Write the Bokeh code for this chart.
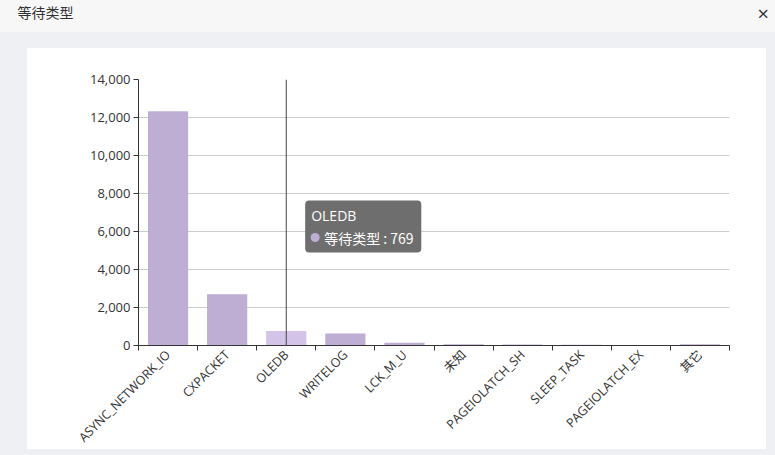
import math
from bokeh.plotting import figure
from bokeh.models import (Range1d, FixedTicker, NumeralTickFormatter, Span,
                          BoxAnnotation, Label, ColumnDataSource)
from bokeh.embed import file_html
from bokeh.resources import INLINE

# ---------------- data ----------------
title_text = "等待类型"
categories = ["ASYNC_NETWORK_IO", "CXPACKET", "OLEDB", "WRITELOG", "LCK_M_U",
              "未知", "PAGEIOLATCH_SH", "SLEEP_TASK", "PAGEIOLATCH_EX", "其它"]
wait_values = [12330, 2700, 769, 632, 145, 65, 50, 45, 10, 65]
y_ticks = [0, 2000, 4000, 6000, 8000, 10000, 12000, 14000]
series_name = "等待类型"
hover_index = 2

# ---------------- styles ----------------
FONT = "'Open Sans', 'Noto Sans CJK SC', sans-serif"
CJK = "'Noto Sans CJK SC', 'Open Sans', sans-serif"
BAR = "#bfaed4"
BAR_HI = "#d3c3e8"
GRAY_BG = "#eef0f3"
HEADER_BG = "#f7f7f8"
TXT = "#333333"

W, H = 775, 455
FL, FR, FT, FB = 138, 729, 79, 345          # plot frame edges (px)
n = len(categories)
x0, x1 = -0.5, n - 0.5
y0, y1 = y_ticks[0], y_ticks[-1]

page_bg = ("linear-gradient(#ffffff,#ffffff) 27px 48px / 739px 401px no-repeat, "
           f"linear-gradient({HEADER_BG},{HEADER_BG}) 0px 0px / 100% 32px no-repeat, "
           f"{GRAY_BG}")

xs = list(range(n))
colors = [BAR_HI if i == hover_index else BAR for i in xs]
src = ColumnDataSource(dict(x=xs, top=wait_values, color=colors, name=categories))

p = figure(width=W, height=H, x_range=Range1d(x0, x1), y_range=Range1d(y0, y1),
           output_backend="svg", toolbar_location=None,
           min_border_left=FL, min_border_right=W - FR, min_border_top=FT,
           min_border_bottom=H - FB, outline_line_color=None,
           background_fill_color="white", border_fill_color=None,
           styles={"background": page_bg})

# header texts: labels in the top panel, in canvas pixels
p.add_layout(Label(x=17, y=11.5, x_units="canvas", y_units="canvas", text=title_text,
                   text_color=TXT, text_font=CJK, text_font_size="14px",
                   text_baseline="middle"), "above")
p.add_layout(Label(x=757, y=12.5, x_units="canvas", y_units="canvas", text="×",
                   text_color=TXT, text_font="Open Sans", text_font_size="20px",
                   text_baseline="alphabetic"), "above")

p.vbar(x="x", top="top", width=0.68, color="color", line_color=None, source=src)

# y axis
p.yaxis.ticker = FixedTicker(ticks=y_ticks)
p.yaxis.formatter = NumeralTickFormatter(format="0,0")
p.yaxis.axis_line_color = TXT
p.yaxis.major_tick_line_color = TXT
p.yaxis.major_tick_out = 5
p.yaxis.major_tick_in = 0
p.yaxis.minor_tick_line_color = None
p.yaxis.major_label_standoff = 3
p.yaxis.major_label_text_font = FONT
p.yaxis.major_label_text_font_size = "13px"
p.yaxis.major_label_text_color = TXT

# x axis: labels at centres, ticks at band boundaries
p.xaxis.ticker = FixedTicker(ticks=xs, minor_ticks=[i - 0.5 for i in range(n + 1)])
p.xaxis.major_label_overrides = {i: c for i, c in enumerate(categories)}
p.xaxis.major_label_orientation = math.pi / 4
p.xaxis.major_tick_line_color = None
p.xaxis.major_tick_out = 0
p.xaxis.major_tick_in = 0
p.xaxis.minor_tick_line_color = TXT
p.xaxis.minor_tick_out = 5
p.xaxis.minor_tick_in = 0
p.xaxis.axis_line_color = TXT
p.xaxis.major_label_standoff = 2
p.xaxis.major_label_text_font = FONT
p.xaxis.major_label_text_font_size = "12.5px"
p.xaxis.major_label_text_color = TXT

p.xgrid.visible = False
p.ygrid.ticker = p.yaxis.ticker
p.ygrid.grid_line_color = "#cccccc"

# axis pointer
p.add_layout(Span(location=hover_index, dimension="height", line_color="#444444",
                  line_width=1))

# tooltip (positioned relative to the hovered bar)
tip_left = hover_index + 0.32
tip_right = hover_index + 2.285
tip_top = 7630
tip_bottom = 4890
p.add_layout(BoxAnnotation(left=tip_left, right=tip_right, top=tip_top, bottom=tip_bottom,
                           fill_color="#6e6e6e", fill_alpha=1.0, line_color=None,
                           border_radius=4))
p.add_layout(Label(x=tip_left, y=tip_top, x_offset=6, y_offset=-5,
                   text=categories[hover_index], text_color="white",
                   text_font=FONT, text_font_size="14px", text_baseline="top"))
px_x = (x1 - x0) / (FR - FL)
px_y = (y1 - y0) / (FB - FT)
dot = p.scatter(x=[tip_left + 10 * px_x], y=[tip_top - 37 * px_y], size=9,
                color=BAR, line_color=None)
dot.level = "overlay"
p.add_layout(Label(x=tip_left, y=tip_top, x_offset=19, y_offset=-37,
                   text=f"{series_name} : {wait_values[hover_index]}", text_color="white",
                   text_font=CJK, text_font_size="14px", text_baseline="middle"))

open("out.html", "w").write(file_html(p, INLINE))
